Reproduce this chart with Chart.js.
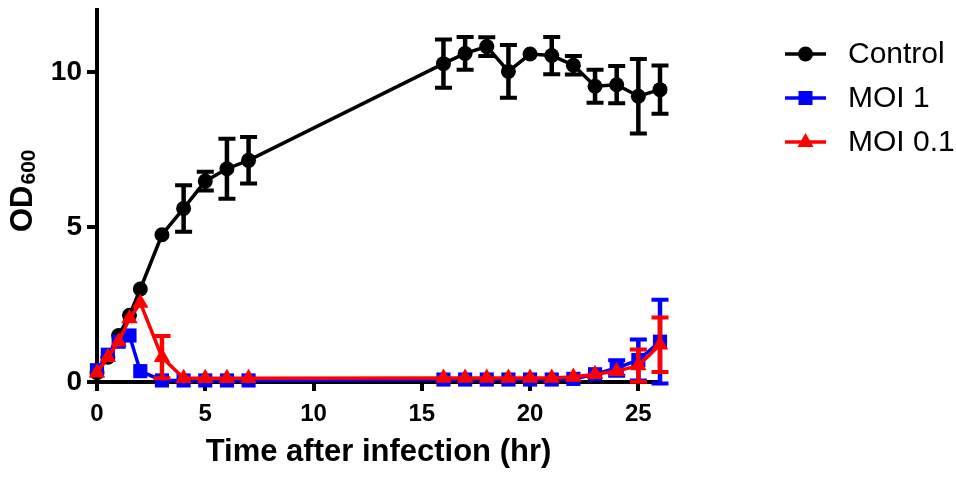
<!DOCTYPE html>
<html>
<head>
<meta charset="utf-8">
<script src="https://cdn.jsdelivr.net/npm/chart.js@4.4.0/dist/chart.umd.min.js"></script>
<style>
  body { margin: 0; background: #fff; }
  canvas { display: block; }
</style>
</head>
<body>
<canvas id="odChart" width="956" height="477"></canvas>
<script>
// Sampling times (hr)
const hours = [0, 0.5, 1, 1.5, 2, 3, 4, 5, 6, 7, 16, 17, 18, 19, 20, 21, 22, 23, 24, 25, 26];

// OD600 means and error (SD)
const controlOD = [0.3, 0.8, 1.5, 2.15, 3.0, 4.75, 5.6, 6.48, 6.88, 7.15, 10.27, 10.6, 10.82, 10.02, 10.58, 10.53, 10.22, 9.54, 9.59, 9.22, 9.43];
const controlErr = [0.05, 0.05, 0.08, 0.1, 0.1, 0.1, 0.75, 0.3, 0.97, 0.75, 0.78, 0.53, 0.3, 0.85, 0.05, 0.6, 0.3, 0.53, 0.6, 1.2, 0.78];
const moi1OD = [0.38, 0.88, 1.3, 1.5, 0.35, 0.05, 0.05, 0.05, 0.05, 0.05, 0.08, 0.08, 0.08, 0.08, 0.08, 0.08, 0.1, 0.25, 0.45, 0.71, 1.3];
const moi1Err = [0.05, 0.1, 0.1, 0.15, 0.1, 0.05, 0.05, 0.05, 0.05, 0.05, 0.05, 0.05, 0.05, 0.05, 0.05, 0.05, 0.05, 0.1, 0.25, 0.66, 1.35];
const moi01OD = [0.3, 0.8, 1.3, 2.05, 2.55, 0.8, 0.12, 0.12, 0.12, 0.12, 0.13, 0.13, 0.13, 0.13, 0.13, 0.13, 0.16, 0.25, 0.35, 0.53, 1.2];
const moi01Err = [0.05, 0.05, 0.05, 0.1, 0.1, 0.68, 0.05, 0.05, 0.05, 0.05, 0.05, 0.05, 0.05, 0.05, 0.05, 0.05, 0.05, 0.05, 0.08, 0.52, 0.88];

const xTicks = [0, 5, 10, 15, 20, 25];
const yTicks = [0, 5, 10];

const FONT = '"Liberation Sans", Arial, Helvetica, sans-serif';

const toPoints = (ys) => ys.map((v, i) => ({ x: hours[i], y: v }));

// error bars drawn under each dataset's line and markers,
// skipped when the bar would be hidden inside the marker
const errorBars = {
  id: 'errorBars',
  beforeDatasetDraw(chart, args) {
    const ds = chart.data.datasets[args.index];
    if (!ds.errors) return;
    const { ctx, scales: { x, y } } = chart;
    ctx.save();
    ctx.strokeStyle = ds.borderColor;
    ctx.lineCap = 'butt';
    ds.data.forEach((pt, i) => {
      const e = ds.errors[i];
      const px = x.getPixelForValue(pt.x);
      const top = y.getPixelForValue(pt.y + e);
      const bot = y.getPixelForValue(pt.y - e);
      if ((bot - top) / 2 < 7) return;
      ctx.lineWidth = 4.5;
      ctx.beginPath();
      ctx.moveTo(px, top);
      ctx.lineTo(px, bot);
      ctx.stroke();
      ctx.lineWidth = 4;
      ctx.beginPath();
      ctx.moveTo(px - 8.5, top);
      ctx.lineTo(px + 8.5, top);
      ctx.moveTo(px - 8.5, bot);
      ctx.lineTo(px + 8.5, bot);
      ctx.stroke();
    });
    ctx.restore();
  }
};

function drawMarker(ctx, style, x, y) {
  ctx.beginPath();
  if (style === 'circle') {
    ctx.arc(x, y, 7.5, 0, Math.PI * 2);
  } else if (style === 'rect') {
    ctx.rect(x - 7, y - 7, 14, 14);
  } else {
    ctx.moveTo(x, y - 9);
    ctx.lineTo(x + 8, y + 5);
    ctx.lineTo(x - 8, y + 5);
    ctx.closePath();
  }
  ctx.fill();
}

// legend on the right and the subscripted y title
const extras = {
  id: 'extras',
  afterDraw(chart) {
    const ctx = chart.ctx;
    ctx.save();
    chart.data.datasets.forEach((ds, i) => {
      const y = 54 + i * 44;
      ctx.strokeStyle = ds.borderColor;
      ctx.fillStyle = ds.borderColor;
      ctx.lineWidth = 3.5;
      ctx.beginPath();
      ctx.moveTo(785, y);
      ctx.lineTo(826, y);
      ctx.stroke();
      drawMarker(ctx, ds.pointStyle, 805.5, y);
      ctx.fillStyle = '#000';
      ctx.font = '30px ' + FONT;
      ctx.textBaseline = 'middle';
      ctx.textAlign = 'left';
      ctx.fillText(ds.label, 848, y + 1);
    });

    ctx.translate(32, 232);
    ctx.rotate(-Math.PI / 2);
    ctx.fillStyle = '#000';
    ctx.textBaseline = 'alphabetic';
    ctx.textAlign = 'left';
    ctx.font = 'bold 31px ' + FONT;
    ctx.fillText('OD', 0, 0);
    const w = ctx.measureText('OD').width;
    ctx.font = 'bold 21px ' + FONT;
    ctx.fillText('600', w + 1, 3);
    ctx.restore();
  }
};

const ctx = document.getElementById('odChart');
const odChart = new Chart(ctx, {
  type: 'line',
  data: {
    datasets: [
      {
        label: 'Control',
        data: toPoints(controlOD),
        errors: controlErr,
        borderColor: '#000000',
        backgroundColor: '#000000',
        pointStyle: 'circle',
        pointRadius: 7.5,
        order: 3
      },
      {
        label: 'MOI 1',
        data: toPoints(moi1OD),
        errors: moi1Err,
        borderColor: '#0000ff',
        backgroundColor: '#0000ff',
        pointStyle: 'rect',
        pointRadius: 10,
        order: 2
      },
      {
        label: 'MOI 0.1',
        data: toPoints(moi01OD),
        errors: moi01Err,
        borderColor: '#ff0000',
        backgroundColor: '#ff0000',
        pointStyle: 'triangle',
        pointRadius: 9.5,
        order: 1
      }
    ]
  },
  options: {
    responsive: false,
    animation: false,
    clip: false,
    layout: { padding: { top: 7, right: 296, left: 0, bottom: 0 } },
    elements: {
      line: { borderWidth: 3.5, tension: 0 },
      point: { borderWidth: 0, hoverRadius: 8 }
    },
    plugins: {
      legend: { display: false },
      tooltip: { enabled: false }
    },
    scales: {
      x: {
        type: 'linear',
        min: 0,
        max: 26,
        afterFit: (scale) => {
          scale.height = 95;
          scale.paddingLeft = 0;
          scale.paddingRight = 0;
        },
        afterBuildTicks: (scale) => { scale.ticks = xTicks.map(v => ({ value: v })); },
        border: { display: true, color: '#000', width: 4 },
        grid: { drawOnChartArea: false, drawTicks: true, tickLength: 9, color: '#000', lineWidth: 4 },
        ticks: {
          color: '#000',
          padding: 9,
          maxRotation: 0,
          font: { family: FONT, size: 24, weight: 'bold' }
        },
        title: {
          display: true,
          text: 'Time after infection (hr)',
          color: '#000',
          padding: { top: 0, bottom: 6 },
          font: { family: FONT, size: 31, weight: 'bold' }
        }
      },
      y: {
        type: 'linear',
        min: 0,
        max: 12,
        afterFit: (scale) => {
          scale.width = 97;
          scale.paddingTop = 0;
          scale.paddingBottom = 0;
        },
        afterBuildTicks: (scale) => { scale.ticks = yTicks.map(v => ({ value: v })); },
        border: { display: true, color: '#000', width: 4 },
        grid: { drawOnChartArea: false, drawTicks: true, tickLength: 10, color: '#000', lineWidth: 4 },
        ticks: {
          color: '#000',
          padding: 5,
          font: { family: FONT, size: 28, weight: 'bold' }
        }
      }
    }
  },
  plugins: [errorBars, extras]
});
</script>
</body>
</html>
